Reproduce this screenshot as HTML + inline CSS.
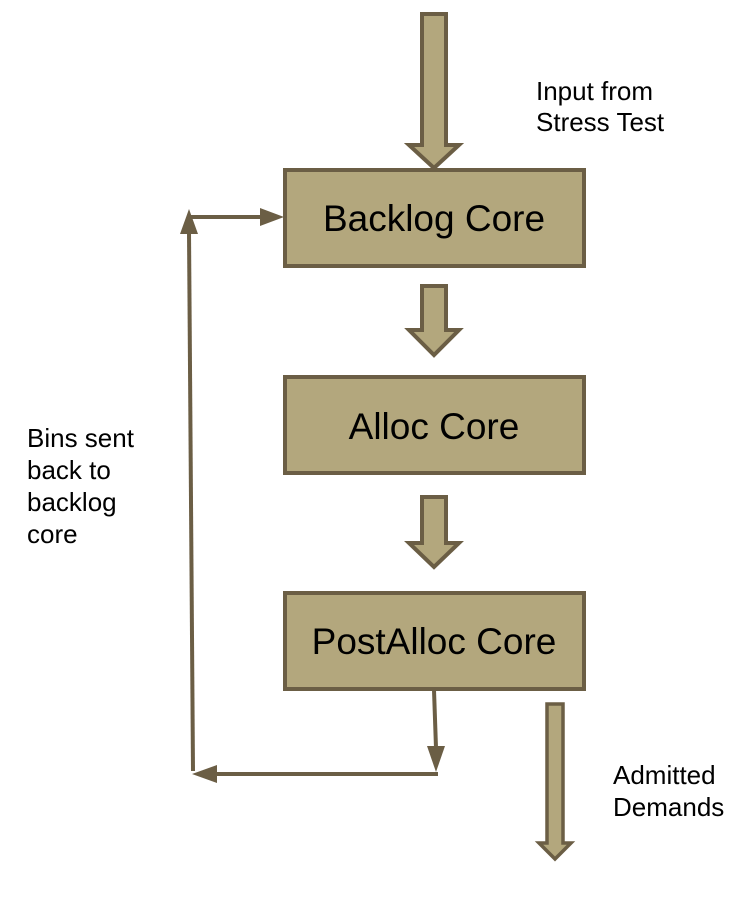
<!DOCTYPE html>
<html><head><meta charset="utf-8"><style>
html,body{margin:0;padding:0;background:#fff;}
svg{display:block;}
text{font-family:"Liberation Sans",sans-serif;fill:#000;}
</style></head><body>
<svg width="752" height="907" viewBox="0 0 752 907" xmlns="http://www.w3.org/2000/svg">
<g fill="#b3a77d" stroke="#6b5e45" stroke-width="4" stroke-linejoin="miter">
<polygon points="422,14 446,14 446,145 459,145 434,168 409,145 422,145"/>
<rect x="285" y="170" width="299" height="96"/>
<polygon points="422,286 446,286 446,330 459,330 434,355 409,330 422,330"/>
<rect x="285" y="377" width="299" height="96"/>
<polygon points="422,497 446,497 446,543 459,543 434,567 409,543 422,543"/>
<rect x="285" y="593" width="299" height="96"/>
<polygon points="547,704 563,704 563,843 571,843 555,859 539,843 547,843" stroke-width="3.5"/>
</g>
<g stroke="#6b5e45" stroke-width="4" fill="none">
<line x1="434" y1="690" x2="436" y2="748"/>
<line x1="438" y1="774" x2="215" y2="774"/>
<line x1="193" y1="771" x2="189" y2="232"/>
<line x1="189" y1="217" x2="262" y2="217"/>
</g>
<g fill="#6b5e45">
<polygon points="427,746 445,746 436,772"/>
<polygon points="217,765 217,783 192,774"/>
<polygon points="180,234 198,234 189,209"/>
<polygon points="260,208 260,226 284,217"/>
</g>
<text x="434" y="231" font-size="37" text-anchor="middle">Backlog Core</text>
<text x="434" y="439" font-size="37" text-anchor="middle">Alloc Core</text>
<text x="434" y="654" font-size="37" text-anchor="middle">PostAlloc Core</text>
<g font-size="26">
<text x="536" y="100">Input from</text>
<text x="536" y="131">Stress Test</text>
<text x="27" y="447">Bins sent</text>
<text x="27" y="479">back to</text>
<text x="27" y="511">backlog</text>
<text x="27" y="543">core</text>
<text x="613" y="784">Admitted</text>
<text x="613" y="816">Demands</text>
</g>
</svg>
</body></html>
